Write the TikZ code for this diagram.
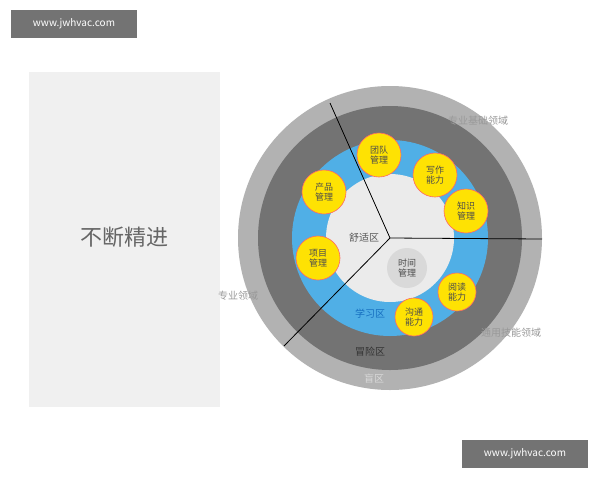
\documentclass[tikz,border=0pt]{standalone}
\usepackage{fontspec}
\setmainfont{Noto Sans CJK SC}
\begin{document}
\begin{tikzpicture}[x=1pt,y=-1pt,
  yc/.style={circle,fill=yellow!85!orange,draw=red!60,line width=0.6pt,minimum size=44pt,inner sep=0pt,align=center,font=\fontsize{9}{10}\selectfont,text=black!70},
  zl/.style={font=\fontsize{10}{11}\selectfont},
  wm/.style={fill=black!55,text=white,font=\fontsize{10}{11}\selectfont,minimum width=126pt,minimum height=28pt,inner sep=0pt}]
\useasboundingbox (0,0) rectangle (600,480);
\fill[white] (0,0) rectangle (600,480);
\node[wm] (wm1) at (74,24) {www.jwhvac.com};
\node[wm] (wm2) at (525,454) {www.jwhvac.com};
\fill[black!6] (29,72) rectangle (220,407);
\node[font=\fontsize{22}{24}\selectfont,text=black!60] (title) at (124,237) {不断精进};
\coordinate (c) at (390,238);
\fill[black!30] (c) circle (152);
\fill[black!55] (c) circle (132);
\fill[cyan!80!blue!70] (c) circle (98);
\fill[black!8] (c) circle (64);
\fill[black!15] (407,268) circle (20);
\node[font=\fontsize{9}{10}\selectfont,align=center,text=black!70] (tm) at (407,268) {时间\\管理};
\coordinate (e1) at (330,103);
\coordinate (e2) at (542,239);
\coordinate (e3) at (284,346);
\draw[black,line width=0.8pt] (e1) -- (c) -- (e2) (c) -- (e3);
\node[yc] (a) at (379,155) {团队\\管理};
\node[yc] (b) at (435,175) {写作\\能力};
\node[yc] (k) at (466,211) {知识\\管理};
\node[yc] (p) at (324,192) {产品\\管理};
\node[yc] (x) at (318,258) {项目\\管理};
\node[yc,minimum size=38pt] (r) at (457,292) {阅读\\能力};
\node[yc,minimum size=38pt] (g) at (414,317) {沟通\\能力};
\node[zl,text=black!65] (sz) at (364,238) {舒适区};
\node[zl,text=cyan!50!blue] (xx) at (370,314) {学习区};
\node[zl,text=black!80] (mx) at (370,352) {冒险区};
\node[zl,text=white!85!black] (mq) at (374,379) {盲区};
\node[zl,text=black!40] (l1) at (478,121) {专业基础领域};
\node[zl,text=black!40] (l2) at (238,296) {专业领域};
\node[zl,text=black!40] (l3) at (511,333) {通用技能领域};
\end{tikzpicture}
\end{document}
